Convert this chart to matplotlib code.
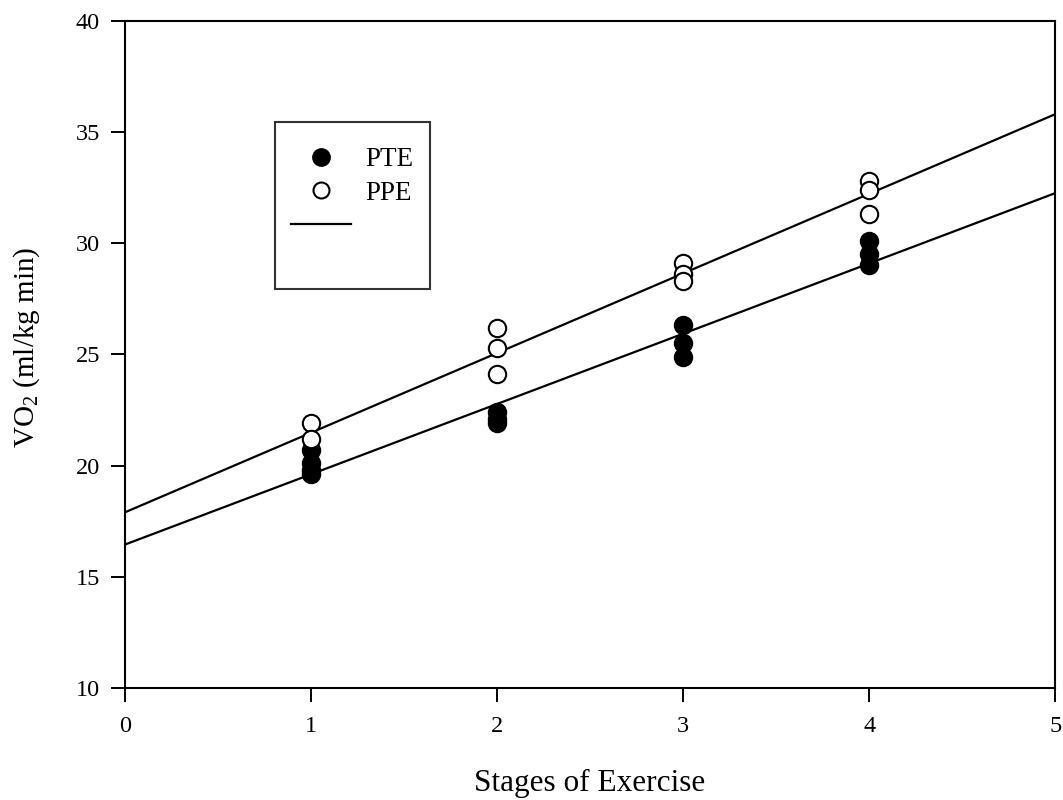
import matplotlib
matplotlib.use("Agg")
import matplotlib.pyplot as plt
from matplotlib.lines import Line2D
import numpy as np

plt.rcParams['font.family'] = ['Liberation Serif', 'DejaVu Serif']
plt.rcParams['mathtext.fontset'] = 'custom'
plt.rcParams['mathtext.rm'] = 'Liberation Serif'

# Data
pte_x = [1, 1, 1, 1, 2, 2, 2, 3, 3, 3, 4, 4, 4]
pte_y = [20.7, 20.1, 19.8, 19.6, 22.4, 22.1, 21.9, 26.3, 25.5, 24.9, 30.1, 29.5, 29.0]
ppe_x = [1, 1, 2, 2, 2, 3, 3, 3, 4, 4, 4]
ppe_y = [21.9, 21.2, 26.2, 25.3, 24.1, 29.1, 28.6, 28.3, 32.8, 32.4, 31.3]
# regression lines (intercept, slope)
pte_fit = (16.45, 3.16)
ppe_fit = (17.9, 3.58)

xticks = [0, 1, 2, 3, 4, 5]
yticks = [10, 15, 20, 25, 30, 35, 40]

fig = plt.figure(figsize=(10.63, 8), dpi=100)
ax = fig.add_axes([0.1176, 0.14, 0.875, 0.834])

xl = np.array([0, 5])
ax.plot(xl, pte_fit[0] + pte_fit[1] * xl, color='black', lw=1.6, zorder=2)
ax.plot(xl, ppe_fit[0] + ppe_fit[1] * xl, color='black', lw=1.6, zorder=2)

ax.plot(pte_x, pte_y, 'o', ms=12.5, mfc='black', mec='black', mew=1.5, ls='none', zorder=3)
ax.plot(ppe_x, ppe_y, 'o', ms=12.5, mfc='white', mec='black', mew=1.5, ls='none', zorder=3)

ax.set_xlim(0, 5)
ax.set_ylim(10, 40)
ax.set_xticks(xticks)
ax.set_yticks(yticks)
ax.tick_params(direction='out', length=10, width=1.4, labelsize=17.5)
ax.tick_params(axis='x', pad=10)
ax.tick_params(axis='y', pad=8)
for s in ax.spines.values():
    s.set_linewidth(1.5)

ax.set_xlabel('Stages of Exercise', fontsize=22.5, labelpad=23)
ax.set_ylabel('VO$_2$ (ml/kg min)', fontsize=21)
ax.yaxis.set_label_coords(-0.089, 0.511)

handles = [
    Line2D([], [], marker='o', ms=12.5, mfc='black', mec='black', ls='none'),
    Line2D([], [], marker='o', ms=11.5, mfc='white', mec='black', mew=1.5, ls='none'),
    Line2D([], [], color='black', lw=1.6),
    Line2D([], [], color='none'),
]
leg = ax.legend(handles, ['PTE', 'PPE', '', ''], loc='upper left',
                bbox_to_anchor=(0.161, 0.849), borderaxespad=0,
                fontsize=19.5, frameon=True, title=' ', title_fontsize=1,
                fancybox=False, edgecolor='black', handlelength=2.2,
                labelspacing=0.31, borderpad=0.6, handletextpad=0.55)
leg.get_frame().set_linewidth(1.5)

fig.savefig('out.png', dpi=100)
